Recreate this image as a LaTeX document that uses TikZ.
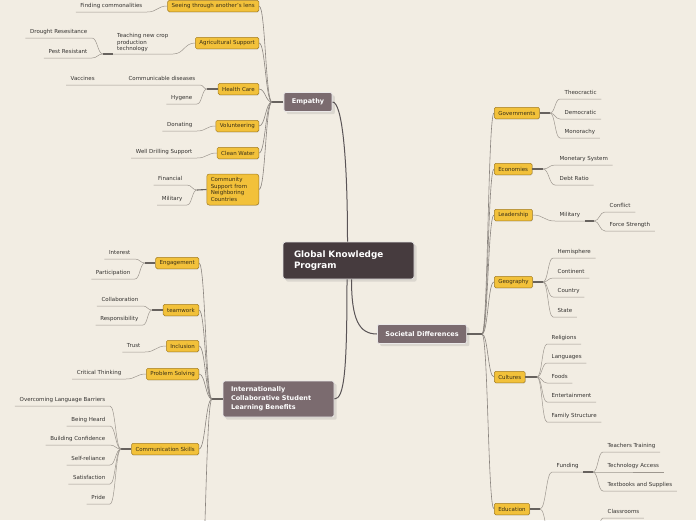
\documentclass[tikz,border=0pt]{standalone}
\usepackage{fontspec}
\setmainfont{DejaVu Sans}
\usetikzlibrary{calc,shadows}

\definecolor{bgc}{HTML}{F2EDE3}
\definecolor{subc}{HTML}{F2C13A}
\definecolor{subd}{HTML}{A47E24}
\definecolor{subtxt}{HTML}{3A3018}
\definecolor{topc}{HTML}{7B6B6F}
\definecolor{rootc}{HTML}{463B3E}
\definecolor{linec}{HTML}{9D978F}
\definecolor{boughc}{HTML}{8A847E}
\definecolor{knotc}{HTML}{67625E}
\definecolor{trunkc}{HTML}{5A5456}
\definecolor{leaftxt}{HTML}{343230}

\tikzset{
  root/.style={fill=rootc, draw=white!85!rootc, line width=0.8pt, rounded corners=2.5pt,
    text=white, font=\bfseries\fontsize{8.8}{11}\selectfont, align=left, text width=109pt,
    inner xsep=11pt, minimum height=37pt, drop shadow={opacity=0.2}},
  topic/.style={fill=topc, draw=white!85!topc, line width=0.8pt, rounded corners=2pt,
    text=white, font=\bfseries\fontsize{6.5}{9}\selectfont, inner xsep=8pt,
    minimum height=19pt, drop shadow={opacity=0.2}},
  sub/.style={fill=subc, draw=subd, line width=0.5pt, rounded corners=1.5pt,
    text=subtxt, font=\fontsize{5.5}{6.6}\selectfont, inner xsep=4pt, inner ysep=1pt,
    minimum height=11.5pt, drop shadow={opacity=0.3, shadow xshift=0.4pt, shadow yshift=-0.7pt}},
  leaf/.style={text=leaftxt, font=\fontsize{5.5}{6.5}\selectfont, inner xsep=4.5pt,
    inner ysep=2.5pt, text height=4pt, text depth=1.5pt},
  note/.style={text=leaftxt, font=\fontsize{5.5}{6.5}\selectfont, inner xsep=4.5pt,
    inner ysep=2pt, align=left},
  trunk/.style={draw=trunkc, line width=1pt},
  knot/.style={draw=knotc, line width=1.1pt},
  bough/.style={draw=boughc, line width=0.6pt},
  twig/.style={draw=linec, line width=0.5pt},
  br/.style={to path={.. controls ($(\tikztostart)!.5!(\tikztostart -| \tikztotarget)$)
    and ($(\tikztotarget)!.5!(\tikztotarget -| \tikztostart)$) .. (\tikztotarget)}}
}

\begin{document}
\begin{tikzpicture}[x=1pt,y=-1pt]
\fill[bgc] (0,0) rectangle (696,520);
\useasboundingbox (0,0) rectangle (696,520);
\clip (0,0) rectangle (696,520);

\node[root] (gkp) at (348.5,260.5) {Global Knowledge\\Program};
\node[topic] (emp) at (308,102) {Empathy};
\node[topic] (soc) at (422,334) {Societal Differences};
\node[topic, align=left, text width=95pt, minimum height=36pt] (icb) at (278.5,399)
  {Internationally\\Collaborative Student\\Learning Benefits};

\draw[trunk] (emp.east) .. controls +(9,0) and +(0,-90) .. ([xshift=-1pt]gkp.north);
\draw[trunk] ([xshift=-1.5pt]gkp.south) .. controls +(0,90) and +(10,0) .. (icb.east);
\draw[trunk] ([xshift=3pt]gkp.south) .. controls +(0,40) and +(-18,0) .. (soc.west);

% Empathy
\node[sub, anchor=east] (lens) at (259,6) {Seeing through another's lens};
\node[sub, anchor=east] (agri) at (259,43) {Agricultural Support};
\node[sub, anchor=east] (health) at (259,89) {Health Care};
\node[sub, anchor=east] (volun) at (259,126) {Volunteering};
\node[sub, anchor=east] (water) at (259,153) {Clean Water};
\node[sub, anchor=east, align=left, text width=44pt, minimum height=31pt, rounded corners=2.5pt]
  (comm) at (259,189.5) {Community\\Support from\\Neighboring\\Countries};
\coordinate (empJ) at (272,102);
\draw[knot] (emp.west) -- (empJ);
\foreach \n in {lens,agri,health,volun,water,comm}
  \draw[bough] (empJ) to[br] (\n.east);

\node[leaf, anchor=south east] (find) at (147,12) {Finding commonalities};
\draw[twig] (lens.west) to[br] (find.south east) -- (find.south west);

\node[note, anchor=south east] (teach) at (173,54) {Teaching new crop\\production\\technology};
\node[leaf, anchor=south east] (drought) at (92,38) {Drought Resesitance};
\node[leaf, anchor=south east] (pest) at (92,58) {Pest Resistant};
\coordinate (teachJ) at (103,54);
\draw[twig] (agri.west) to[br] (teach.south east) -- (teach.south west);
\draw[knot] (teach.south west) -- (teachJ);
\draw[twig] (teachJ) to[br] (drought.south east) -- (drought.south west);
\draw[twig] (teachJ) to[br] (pest.south east) -- (pest.south west);

\node[leaf, anchor=south east] (cd) at (200,85) {Communicable diseases};
\node[leaf, anchor=south west] (vac) at (66,85) {Vaccines};
\node[leaf, anchor=south east] (hyg) at (197,104) {Hygene};
\coordinate (healthJ) at (207,89);
\draw[knot] (health.west) -- (healthJ);
\draw[twig] (healthJ) to[br] (cd.south east) -- (cd.south west) -- (vac.south east) -- (vac.south west);
\draw[twig] (healthJ) to[br] (hyg.south east) -- (hyg.south west);

\node[leaf, anchor=south east] (don) at (197,131) {Donating};
\draw[twig] (volun.west) to[br] (don.south east) -- (don.south west);
\node[leaf, anchor=south east] (well) at (197,158) {Well Drilling Support};
\draw[twig] (water.west) to[br] (well.south east) -- (well.south west);

\node[leaf, anchor=south east] (fin) at (187,185) {Financial};
\node[leaf, anchor=south east] (mil) at (187,205) {Military};
\coordinate (commJ) at (197,190);
\draw[knot] (comm.west) -- (commJ);
\draw[twig] (commJ) to[br] (fin.south east) -- (fin.south west);
\draw[twig] (commJ) to[br] (mil.south east) -- (mil.south west);

% Internationally Collaborative Student Learning Benefits
\node[sub, anchor=east] (eng) at (199,263) {Engagement};
\node[sub, anchor=east] (team) at (199,310) {teamwork};
\node[sub, anchor=east] (incl) at (199,346) {Inclusion};
\node[sub, anchor=east] (prob) at (199,374) {Problem Solving};
\node[sub, anchor=east] (comsk) at (199,449) {Communication Skills};
\coordinate (icJ) at (212,399);
\coordinate (icX) at (199,610);
\draw[knot] (icb.west) -- (icJ);
\foreach \n in {eng,team,incl,prob,comsk}
  \draw[bough] (icJ) to[br] (\n.east);
\draw[bough] (icJ) to[br] (icX);

\node[leaf, anchor=south east] (inter) at (135,259) {Interest};
\node[leaf, anchor=south east] (parti) at (135,279) {Participation};
\coordinate (engJ) at (145,263);
\draw[knot] (eng.west) -- (engJ);
\draw[twig] (engJ) to[br] (inter.south east) -- (inter.south west);
\draw[twig] (engJ) to[br] (parti.south east) -- (parti.south west);

\node[leaf, anchor=south east] (colla) at (143,306) {Collaboration};
\node[leaf, anchor=south east] (respo) at (143,325) {Responsibility};
\coordinate (teamJ) at (152,310);
\draw[knot] (team.west) -- (teamJ);
\draw[twig] (teamJ) to[br] (colla.south east) -- (colla.south west);
\draw[twig] (teamJ) to[br] (respo.south east) -- (respo.south west);

\node[leaf, anchor=south east] (trust) at (145,352) {Trust};
\draw[twig] (incl.west) to[br] (trust.south east) -- (trust.south west);
\node[leaf, anchor=south east] (crit) at (126,379) {Critical Thinking};
\draw[twig] (prob.west) to[br] (crit.south east) -- (crit.south west);

\coordinate (csJ) at (121,449);
\draw[knot] (comsk.west) -- (csJ);
\foreach \y/\t [count=\i] in {406/Overcoming Language Barriers, 426/Being Heard,
    445/Building Confidence, 465/Self-reliance, 484/Satisfaction, 504/Pride} {
  \node[leaf, anchor=south east] (cs\i) at (110,\y) {\t};
  \draw[twig] (csJ) to[br] (cs\i.south east) -- (cs\i.south west);
}

% Societal Differences
\node[sub, anchor=west] (gov) at (494,113) {Governments};
\node[sub, anchor=west] (eco) at (494,169) {Economies};
\node[sub, anchor=west] (lead) at (494,215) {Leadership};
\node[sub, anchor=west] (geo) at (494,282) {Geography};
\node[sub, anchor=west] (cult) at (494,377) {Cultures};
\node[sub, anchor=west] (edu) at (494,509) {Education};
\coordinate (socJ) at (482,334);
\draw[knot] (soc.east) -- (socJ);
\foreach \n in {gov,eco,lead,geo,cult,edu}
  \draw[bough] (socJ) to[br] (\n.west);

\coordinate (govJ) at (550,113);
\draw[knot] (gov.east) -- (govJ);
\foreach \y/\t [count=\i] in {99/Theocractic, 119/Democratic, 138/Monorachy} {
  \node[leaf, anchor=south west] (gv\i) at (560,\y) {\t};
  \draw[twig] (govJ) to[br] (gv\i.south west) -- (gv\i.south east);
}

\coordinate (ecoJ) at (543,169);
\draw[knot] (eco.east) -- (ecoJ);
\foreach \y/\t [count=\i] in {165/Monetary System, 185/Debt Ratio} {
  \node[leaf, anchor=south west] (ec\i) at (555,\y) {\t};
  \draw[twig] (ecoJ) to[br] (ec\i.south west) -- (ec\i.south east);
}

\node[leaf, anchor=south west] (milit) at (555,221) {Military};
\coordinate (milJ) at (594,221);
\draw[twig] (lead.east) to[br] (milit.south west) -- (milit.south east);
\draw[knot] (milit.south east) -- (milJ);
\foreach \y/\t [count=\i] in {212/Conflict, 231/Force Strength} {
  \node[leaf, anchor=south west] (ml\i) at (605,\y) {\t};
  \draw[twig] (milJ) to[br] (ml\i.south west) -- (ml\i.south east);
}

\coordinate (geoJ) at (543,282);
\draw[knot] (geo.east) -- (geoJ);
\foreach \y/\t [count=\i] in {258/Hemisphere, 278/Continent, 297/Country, 317/State} {
  \node[leaf, anchor=south west] (gg\i) at (553,\y) {\t};
  \draw[twig] (geoJ) to[br] (gg\i.south west) -- (gg\i.south east);
}

\coordinate (cultJ) at (537,377);
\draw[knot] (cult.east) -- (cultJ);
\foreach \y/\t [count=\i] in {344/Religions, 363/Languages, 383/Foods,
    402/Entertainment, 422/Family Structure} {
  \node[leaf, anchor=south west] (cu\i) at (547,\y) {\t};
  \draw[twig] (cultJ) to[br] (cu\i.south west) -- (cu\i.south east);
}

\coordinate (eduJ) at (540,509);
\coordinate (eduX) at (552,545);
\draw[knot] (edu.east) -- (eduJ);
\node[leaf, anchor=south west] (fund) at (552,472) {Funding};
\coordinate (fundJ) at (593,472);
\draw[twig] (eduJ) to[br] (fund.south west) -- (fund.south east);
\draw[twig] (eduJ) to[br] (eduX);
\draw[knot] (fund.south east) -- (fundJ);
\foreach \y/\t [count=\i] in {452/Teachers Training, 472/Technology Access,
    491/Textbooks and Supplies} {
  \node[leaf, anchor=south west] (fd\i) at (603,\y) {\t};
  \draw[twig] (fundJ) to[br] (fd\i.south west) -- (fd\i.south east);
}

\node[leaf, anchor=south west] (clsr) at (603,518) {Classrooms};
\coordinate (clsJ) at (593,548);
\draw[twig] (clsJ) to[br] (clsr.south west) -- (clsr.south east);
\end{tikzpicture}
\end{document}
